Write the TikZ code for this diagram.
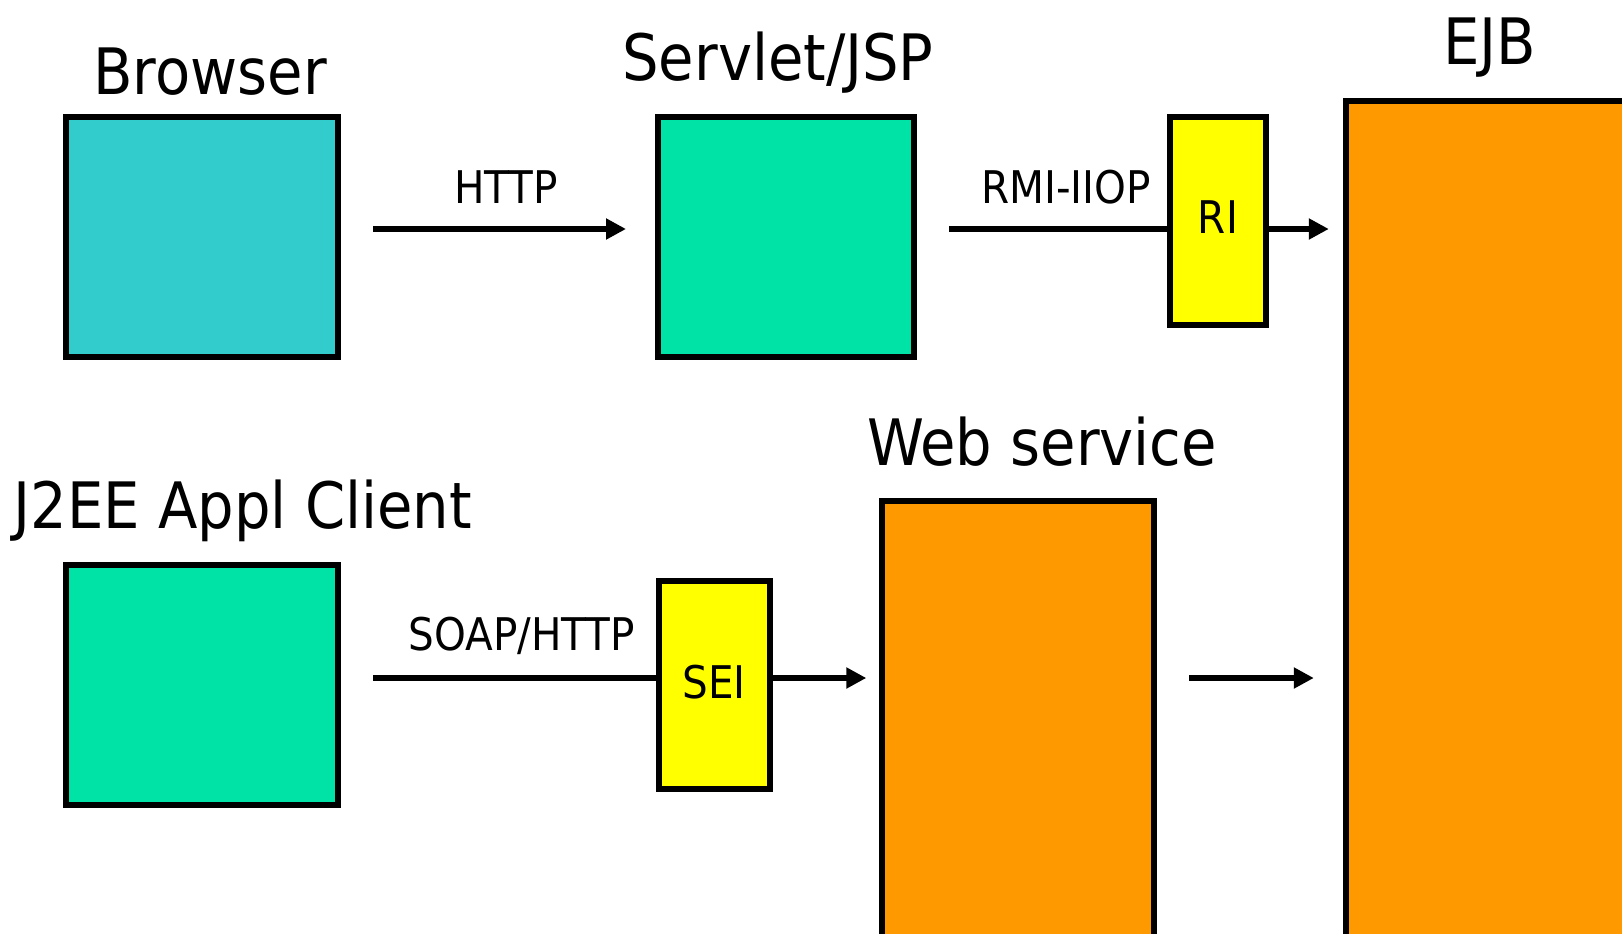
\documentclass[tikz,border=0pt]{standalone}
\usepackage{fontspec}
\setmainfont{DejaVu Sans Condensed}
\usetikzlibrary{arrows.meta}
\definecolor{clientcyan}{HTML}{33CCCC}
\definecolor{webgreen}{HTML}{00E3A6}
\definecolor{stubyellow}{HTML}{FFFF00}
\definecolor{beanorange}{HTML}{FF9900}
\begin{document}
\begin{tikzpicture}[x=1pt,y=-1pt,
  box/.style={draw=black, line width=6pt, inner sep=0pt},
  biglabel/.style={font=\fontsize{64}{64}\selectfont, inner sep=0pt, anchor=base},
  smalllabel/.style={font=\fontsize{45}{45}\selectfont, inner sep=0pt, anchor=base},
  wire/.style={line width=6pt},
  arr/.style={wire, -{Triangle[length=20pt,width=20pt]}}]
\useasboundingbox (0,0) rectangle (1622,934);
\clip (0,0) rectangle (1622,934);

% tiers
\node[box, fill=clientcyan, minimum width=271.7pt, minimum height=240pt] (browser) at (202.15,237.3) {};
\node[box, fill=webgreen, minimum width=255.2pt, minimum height=240pt] (servlet) at (785.9,237.3) {};
\node[box, fill=stubyellow, minimum width=96pt, minimum height=208pt] (ri) at (1218.3,221.3) {};
\node[box, fill=beanorange, minimum width=320pt, minimum height=900pt] (ejb) at (1506.3,551.3) {};
\node[box, fill=webgreen, minimum width=271.7pt, minimum height=240pt] (client) at (202.15,685.3) {};
\node[box, fill=stubyellow, minimum width=111.3pt, minimum height=208pt] (sei) at (714.65,685.3) {};
\node[box, fill=beanorange, minimum width=272pt, minimum height=500pt] (ws) at (1018.3,751.3) {};

% titles
\node[biglabel] (browserlbl) at (210,95) {Browser};
\node[biglabel] (servletlbl) at (778,81) {Servlet/JSP};
\node[biglabel] (ejblbl) at (1490,64) {EJB};
\node[biglabel] (wslbl) at (1042,465) {Web service};
\node[biglabel] (clientlbl) at (243,528) {J2EE Appl Client};

% stub labels
\node[smalllabel] (rilbl) at (1218,233) {RI};
\node[smalllabel] (seilbl) at (714,698) {SEI};

% protocol labels
\node[smalllabel] (httplbl) at (506,203) {HTTP};
\node[smalllabel] (rmilbl) at (1066,203) {RMI-IIOP};
\node[smalllabel] (soaplbl) at (522,650) {SOAP/HTTP};

% connectors
\coordinate (toprow) at (0,229);
\coordinate (botrow) at (0,678);
\draw[arr, shorten <=32pt, shorten >=29.3pt] (browser.east|-toprow) -- (servlet.west|-toprow);
\draw[wire, shorten <=32.5pt] (servlet.east|-toprow) -- (ri.west|-toprow);
\draw[arr, shorten >=14.5pt] (ri.east|-toprow) -- (ejb.west|-toprow);
\draw[wire, shorten <=32pt] (client.east|-botrow) -- (sei.west|-botrow);
\draw[arr, shorten >=13pt] (sei.east|-botrow) -- (ws.west|-botrow);
\draw[arr, shorten <=31.7pt, shorten >=29.5pt] (ws.east|-botrow) -- (ejb.west|-botrow);
\end{tikzpicture}
\end{document}
